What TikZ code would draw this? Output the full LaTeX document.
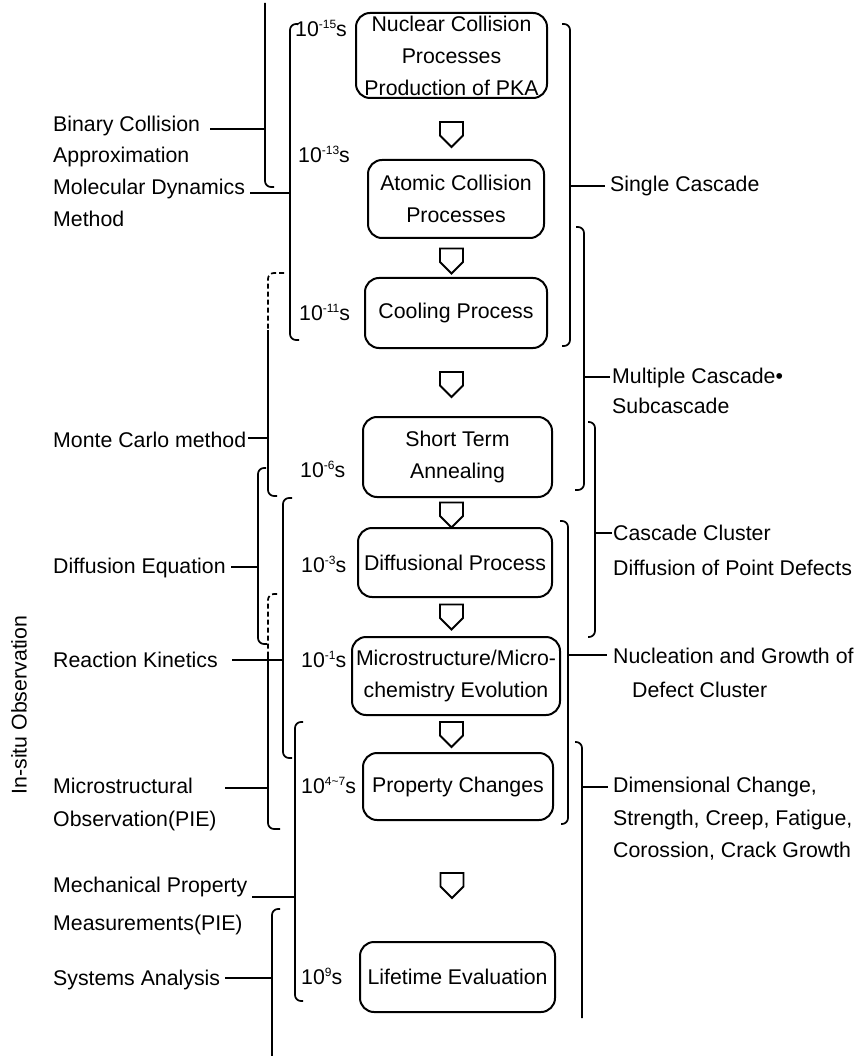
\documentclass[tikz,border=0pt]{standalone}
\usepackage{fontspec}
\setmainfont{Liberation Sans}
\newcommand{\expo}[1]{\raisebox{8pt}{\fontsize{12}{12}\selectfont #1}}
\begin{document}
\begin{tikzpicture}[x=1pt,y=-1pt,
  every node/.style={font=\fontsize{21.3}{32}\selectfont, inner sep=0pt},
  box/.style={draw, line width=2pt, rounded corners=14pt, align=center},
  lbl/.style={anchor=base west},
  tm/.style={anchor=base west},
  brk/.style={line width=1.7pt, rounded corners=6pt},
  dsh/.style={dash pattern=on 5pt off 3pt},
  lead/.style={line width=1.7pt},
  dnarrow/.pic={\draw[line width=1.8pt, line join=miter] (-11.5,-12.5) -- (11.5,-12.5) -- (11.5,1) -- (0,12.5) -- (-11.5,1) -- cycle;}
]
\useasboundingbox (0,0) rectangle (854,1056);

% process boxes
\node[box, minimum width=191, minimum height=85] (nuc) at (451.5,55.5) {Nuclear Collision\\Processes\\Production of PKA};
\node[box, minimum width=176, minimum height=78] (atom) at (456,199) {Atomic Collision\\Processes};
\node[box, minimum width=182, minimum height=70] (cool) at (456,313) {Cooling Process};
\node[box, minimum width=189, minimum height=80] (stann) at (457.5,457) {Short Term\\Annealing};
\node[box, minimum width=194, minimum height=69] (diffp) at (455,562.5) {Diffusional Process};
\node[box, minimum width=208, minimum height=78] (micro) at (456,676) {Microstructure/Micro-\\chemistry Evolution};
\node[box, minimum width=190, minimum height=67] (prop) at (458,786.5) {Property Changes};
\node[box, minimum width=195, minimum height=70] (life) at (457.5,977) {Lifetime Evaluation};

% block arrows
\pic at (451.5,134.5) {dnarrow};
\pic at (451.5,261) {dnarrow};
\pic at (451.5,384.5) {dnarrow};
\pic at (451.5,515) {dnarrow};
\pic at (451.5,617) {dnarrow};
\pic at (451.5,734.5) {dnarrow};
\pic at (452,885.5) {dnarrow};

% time labels
\node[tm] (t15) at (295,37) {10\expo{-15}s};
\node[tm] (t13) at (298,163) {10\expo{-13}s};
\node[tm] (t11) at (299,320) {10\expo{-11}s};
\node[tm] (t6) at (300,477) {10\expo{-6}s};
\node[tm] (t3) at (301,572) {10\expo{-3}s};
\node[tm] (t1) at (301,667) {10\expo{-1}s};
\node[tm] (t47) at (301,793) {10\expo{4\textasciitilde7}s};
\node[tm] (t9) at (301,984) {10\expo{9}s};

% left labels
\node[lbl] (bc1) at (53,132) {Binary Collision};
\node[lbl] (bc2) at (53,163) {Approximation};
\node[lbl] (md1) at (53,195) {Molecular Dynamics};
\node[lbl] (md2) at (53,227) {Method};
\node[lbl] (mc) at (53,447) {Monte Carlo method};
\node[lbl] (de) at (53,573) {Diffusion Equation};
\node[lbl] (rk) at (53,667) {Reaction Kinetics};
\node[lbl] (mo1) at (53,793) {Microstructural};
\node[lbl] (mo2) at (53,826) {Observation(PIE)};
\node[lbl] (mp1) at (53,892) {Mechanical Property};
\node[lbl] (mp2) at (53,930) {Measurements(PIE)};
\node[lbl] (sa) at (53,985) {Systems Analysis};
\node[rotate=90] (insitu) at (19,705) {In-situ Observation};

% right labels
\node[lbl] (sc) at (610,192) {Single Cascade};
\node[lbl] (mc1) at (612,383) {Multiple Cascade•};
\node[lbl] (mc2) at (612,413) {Subcascade};
\node[lbl] (cc1) at (613,540) {Cascade Cluster};
\node[lbl] (cc2) at (613,575) {Diffusion of Point Defects};
\node[lbl] (ng1) at (613,663) {Nucleation and Growth of};
\node[lbl] (ng2) at (632,697) {Defect Cluster};
\node[lbl] (dc1) at (613,792) {Dimensional Change,};
\node[lbl] (dc2) at (613,825) {Strength, Creep, Fatigue,};
\node[lbl] (dc3) at (613,857) {Corossion, Crack Growth};

% left brackets
\draw[brk] (265,3) -- (265,187) -- (274,187);
\draw[brk] (298,24) -- (290,24) -- (290,340) -- (299,340);
\draw[brk,dsh] (284,273) -- (268,273) -- (268,330);
\draw[brk] (268,330) -- (268,496) -- (277,496);
\draw[brk] (266,468) -- (258,468) -- (258,644) -- (267,644);
\draw[brk] (292,498) -- (283,498) -- (283,758) -- (292,758);
\draw[brk,dsh] (277,594) -- (268,594) -- (268,652);
\draw[brk] (268,652) -- (268,829) -- (280,829);
\draw[brk] (303,722) -- (295,722) -- (295,1001) -- (303,1001);
\draw[brk] (280,909) -- (272,909) -- (272,1056);

% right brackets
\draw[brk] (562,24) -- (570,24) -- (570,346) -- (562,346);
\draw[brk] (576,227) -- (584,227) -- (584,490) -- (575,490);
\draw[brk] (588,422) -- (595,422) -- (595,637) -- (588,637);
\draw[brk] (560,521) -- (568,521) -- (568,824) -- (561,824);
\draw[brk] (575,742) -- (582,742) -- (582,1018);

% junctions and lead lines
\coordinate (jA) at (265,129);  \coordinate (sA) at (210,129);
\coordinate (jF) at (290,193);  \coordinate (sF) at (250,193);
\coordinate (jB) at (268,438);  \coordinate (sB) at (248,438);
\coordinate (jC) at (258,567);  \coordinate (sC) at (231,567);
\coordinate (jD) at (283,660);  \coordinate (sD) at (232,660);
\coordinate (jE) at (268,788);  \coordinate (sE) at (225,788);
\coordinate (jG) at (295,897);  \coordinate (sG) at (252,897);
\coordinate (jH) at (272,978);  \coordinate (sH) at (225,978);
\coordinate (jR1) at (570,186); \coordinate (eR1) at (605,186);
\coordinate (jR2) at (584,377); \coordinate (eR2) at (610,377);
\coordinate (jR3) at (595,533); \coordinate (eR3) at (612,533);
\coordinate (jR4) at (568,655); \coordinate (eR4) at (607,655);
\coordinate (jR5) at (582,787); \coordinate (eR5) at (608,787);
\foreach \a/\b in {sA/jA, sF/jF, sB/jB, sC/jC, sD/jD, sE/jE, sG/jG, sH/jH,
  jR1/eR1, jR2/eR2, jR3/eR3, jR4/eR4, jR5/eR5}
  \draw[lead] (\a) -- (\b);
\end{tikzpicture}
\end{document}
